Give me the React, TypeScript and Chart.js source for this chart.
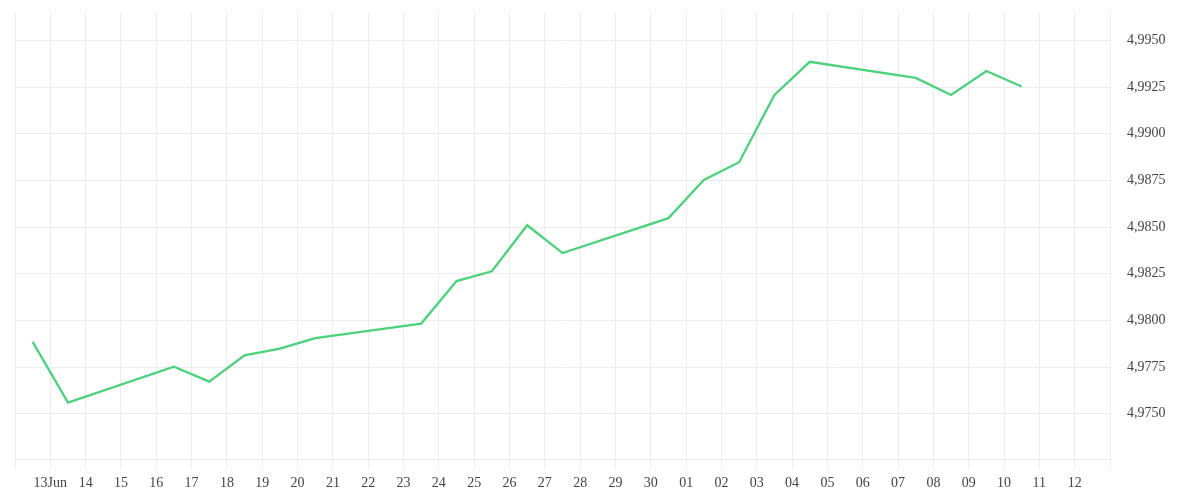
import React, { useEffect, useRef } from "react";
import { Chart, registerables } from "chart.js";

Chart.register(...registerables);

// Axis range (dates, UTC)
const rangeStart = "2025-06-12T00:00:00Z";
const rangeEnd = "2025-07-13T00:00:00Z";

// Daily tick labels from 12 Jun to 13 Jul (first and last not shown)
const tickLabels = [
  "", "13Jun", "14", "15", "16", "17", "18", "19", "20", "21", "22", "23", "24", "25", "26", "27",
  "28", "29", "30", "01", "02", "03", "04", "05", "06", "07", "08", "09", "10", "11", "12", "",
];

// Observation dates
const dates = [
  "2025-06-12T12:00:00Z", "2025-06-13T12:00:00Z", "2025-06-16T12:00:00Z", "2025-06-17T12:00:00Z",
  "2025-06-18T12:00:00Z", "2025-06-19T12:00:00Z", "2025-06-20T12:00:00Z", "2025-06-23T12:00:00Z",
  "2025-06-24T12:00:00Z", "2025-06-25T12:00:00Z", "2025-06-26T12:00:00Z", "2025-06-27T12:00:00Z",
  "2025-06-30T12:00:00Z", "2025-07-01T12:00:00Z", "2025-07-02T12:00:00Z", "2025-07-03T12:00:00Z",
  "2025-07-04T12:00:00Z", "2025-07-07T12:00:00Z", "2025-07-08T12:00:00Z", "2025-07-09T12:00:00Z",
  "2025-07-10T12:00:00Z",
];

// Rates
const rates = [
  4.97885, 4.97559, 4.97752, 4.97672, 4.97813, 4.97849, 4.97905, 4.97983, 4.98211, 4.98263,
  4.9851, 4.98361, 4.98548, 4.98753, 4.98848, 4.99208, 4.99386, 4.993, 4.99208, 4.99337, 4.99254,
];

const yMin = 4.97257;
const yMax = 4.99653;
const yStep = 0.0025;

const DAY = 86400000;
const t0 = Date.parse(rangeStart);
const toDay = (s: string) => (Date.parse(s) - t0) / DAY;

export default function App() {
  const canvasRef = useRef<HTMLCanvasElement | null>(null);

  useEffect(() => {
    const canvas = canvasRef.current;
    if (!canvas) return;
    const gridColor = "#ececec";
    const textColor = "#444444";
    const font = { family: "'Liberation Serif', serif", size: 14 };
    const chart = new Chart(canvas, {
      type: "line",
      data: {
        datasets: [
          {
            data: dates.map((d, i) => ({ x: toDay(d), y: rates[i] })),
            borderColor: "#4cd27b",
            backgroundColor: "#4cd27b",
            borderWidth: 2.3,
            pointRadius: 0,
            tension: 0,
            fill: false,
          },
        ],
      },
      options: {
        animation: false,
        responsive: true,
        maintainAspectRatio: false,
        layout: { padding: { left: 15, top: 12, right: 0, bottom: 0 } },
        plugins: { legend: { display: false }, tooltip: { enabled: false } },
        scales: {
          x: {
            type: "linear",
            min: 0,
            max: toDay(rangeEnd),
            grid: { color: gridColor, drawTicks: true, tickLength: 10, tickColor: gridColor },
            border: { color: gridColor },
            ticks: {
              stepSize: 1,
              autoSkip: false,
              maxRotation: 0,
              minRotation: 0,
              padding: 6,
              color: textColor,
              font,
              callback: (v: any) => {
                const i = Math.round(Number(v));
                return tickLabels[i] ?? "";
              },
            },
            afterFit: (scale: any) => {
              scale.height = 41;
            },
          },
          y: {
            position: "right",
            min: yMin,
            max: yMax,
            grid: { color: gridColor, drawTicks: true, tickLength: 14, tickColor: "rgba(0,0,0,0)" },
            border: { color: gridColor },
            ticks: {
              stepSize: yStep,
              includeBounds: false,
              padding: 3,
              color: textColor,
              font,
              callback: (v: any) => Number(v).toFixed(4).replace(".", ","),
            },
            afterFit: (scale: any) => {
              scale.width = 90;
            },
          },
        },
      },
    } as any);
    return () => chart.destroy();
  }, []);

  return (
    <div style={{ position: "fixed", left: 0, top: 0, width: 1200, height: 500, background: "#fff" }}>
      <canvas ref={canvasRef} />
    </div>
  );
}
